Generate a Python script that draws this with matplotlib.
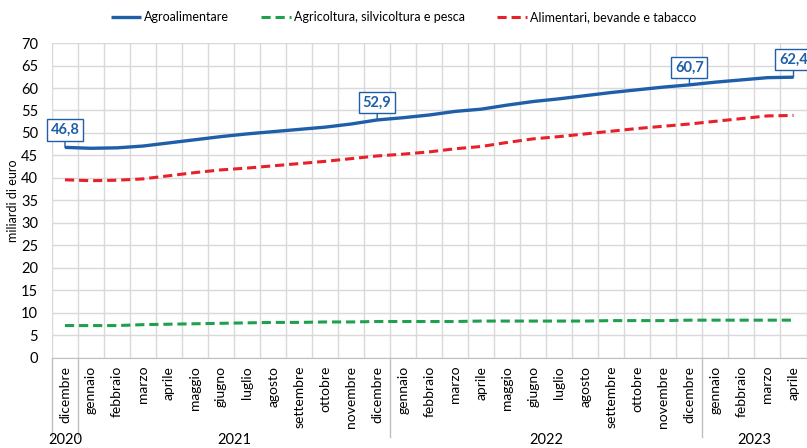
import matplotlib
matplotlib.use('Agg')
import matplotlib.pyplot as plt
import matplotlib.transforms as mtransforms

plt.rcParams['font.family'] = ['Lato', 'DejaVu Sans']

# monthly data, dicembre 2020 - aprile 2023 (miliardi di euro)
months = ['dicembre',
          'gennaio', 'febbraio', 'marzo', 'aprile', 'maggio', 'giugno', 'luglio',
          'agosto', 'settembre', 'ottobre', 'novembre', 'dicembre',
          'gennaio', 'febbraio', 'marzo', 'aprile', 'maggio', 'giugno', 'luglio',
          'agosto', 'settembre', 'ottobre', 'novembre', 'dicembre',
          'gennaio', 'febbraio', 'marzo', 'aprile']
years = ['2020', '2021', '2022', '2023']
year_start = [0, 1, 13, 25]
year_end = [0, 12, 24, 28]

agroalimentare = [46.8, 46.6, 46.7, 47.1, 47.8, 48.5, 49.2, 49.8, 50.3, 50.8,
                  51.3, 52.0, 52.9, 53.4, 54.0, 54.8, 55.3, 56.2, 57.0, 57.6,
                  58.3, 59.0, 59.6, 60.2, 60.7, 61.3, 61.8, 62.3, 62.4]
agricoltura = [7.2, 7.2, 7.2, 7.4, 7.5, 7.6, 7.7, 7.8, 7.9, 7.9,
               8.0, 8.0, 8.1, 8.1, 8.1, 8.1, 8.2, 8.2, 8.2, 8.2,
               8.2, 8.3, 8.3, 8.3, 8.4, 8.4, 8.4, 8.4, 8.4]
alimentari = [39.6, 39.4, 39.5, 39.8, 40.5, 41.2, 41.8, 42.2, 42.7, 43.2,
              43.7, 44.3, 44.9, 45.3, 45.8, 46.5, 47.0, 47.9, 48.7, 49.2,
              49.8, 50.4, 51.0, 51.5, 52.0, 52.6, 53.2, 53.8, 53.9]
labelled = [0, 12, 24, 28]

blue = '#1F5FAA'
green = '#1FA04E'
red = '#E62129'

fig = plt.figure(figsize=(8.07, 4.48), dpi=100)
ax = fig.add_axes([0.0644, 0.201, 0.935, 0.703])

x = list(range(len(months)))
ax.plot(x, agroalimentare, color=blue, lw=2.4, label='Agroalimentare', solid_capstyle='butt')
ax.plot(x, agricoltura, color=green, lw=2.2, ls=(0, (3, 1.6)), label='Agricoltura, silvicoltura e pesca')
ax.plot(x, alimentari, color=red, lw=2.2, ls=(0, (3, 1.6)), label='Alimentari, bevande e tabacco')

ax.set_xlim(-0.5, len(months) - 0.5)
ax.set_ylim(0, 70)
ax.set_yticks(range(0, 71, 5))
ax.set_xticks([i + 0.5 for i in range(-1, len(months))])
ax.set_xticklabels([])
ax.tick_params(axis='both', length=0, labelsize=10.5)
ax.tick_params(axis='y', pad=10)
ax.grid(True, color='#D9D9D9', lw=1)
ax.set_axisbelow(True)
for s in ['top', 'right', 'left']:
    ax.spines[s].set_visible(False)
ax.spines['bottom'].set_color('#BFBFBF')
ax.set_ylabel('miliardi di euro', fontsize=9, labelpad=1)

trans = mtransforms.blended_transform_factory(ax.transData, ax.transAxes)
for i, m in enumerate(months):
    ax.text(i, -0.025, m, rotation=90, ha='center', va='top', fontsize=10,
            transform=trans)

# year separators and labels
for xs in [-0.5, 0.5, 12.5, 24.5]:
    ax.plot([xs, xs], [0, -0.252], color='#BFBFBF', lw=1, transform=trans, clip_on=False)
for yl, a, b in zip(years, year_start, year_end):
    ax.text((a + b) / 2, -0.262, yl, ha='center', va='center', fontsize=10.5,
            transform=trans)

# value callouts
for i in labelled:
    v = agroalimentare[i]
    ax.annotate(f'{v:.1f}'.replace('.', ','), xy=(i, v), xytext=(0, 7.5),
                textcoords='offset points', ha='center', va='bottom',
                color=blue, fontsize=10.5, fontweight='bold',
                bbox=dict(boxstyle='square,pad=0.25', fc='white', ec=blue, lw=1),
                arrowprops=dict(arrowstyle='-', color=blue, lw=1, shrinkA=0, shrinkB=0),
                annotation_clip=False)

fig.legend(loc='upper center', bbox_to_anchor=(0.5, 1.0), ncol=3, frameon=False,
           fontsize=9, handlelength=2.4, columnspacing=2.5, handletextpad=0.3)

plt.savefig('out.png', dpi=100)
plt.close()
